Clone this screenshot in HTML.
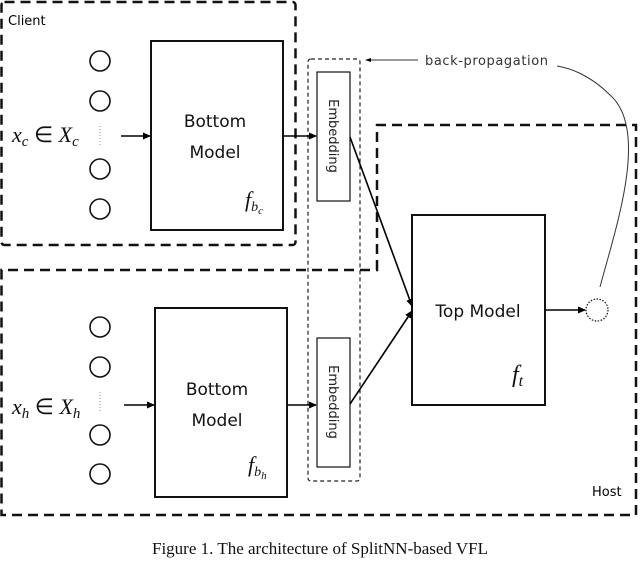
<!DOCTYPE html>
<html><head><style>
body{margin:0;background:#fff;width:640px;height:571px;overflow:hidden}
</style></head><body>
<svg width="640" height="571" xmlns="http://www.w3.org/2000/svg" font-family="DejaVu Sans, Liberation Sans, sans-serif">
<defs><marker id="a" markerWidth="8" markerHeight="8" refX="7" refY="4" orient="auto" markerUnits="userSpaceOnUse"><path d="M0,0.5 L8,4 L0,7.5z" fill="#000"/></marker>
<marker id="s" markerWidth="6" markerHeight="6" refX="5" refY="3" orient="auto" markerUnits="userSpaceOnUse"><path d="M0,1 L6,3 L0,5z" fill="#000"/></marker></defs>
<g fill="none" stroke="#111" stroke-width="2.5" stroke-dasharray="10,6">
<rect x="1.5" y="2" width="294" height="243" rx="3"/>
<path d="M377,270 L377,125 L636,125 L636,515 L1.5,515 L1.5,270 Z"/>
</g>
<rect x="308" y="59" width="52" height="422" rx="3" fill="none" stroke="#222" stroke-width="1.2" stroke-dasharray="4,3"/>
<text x="8" y="25" font-size="13">Client</text>
<text x="592" y="496" font-size="13">Host</text>
<g fill="none" stroke="#111" stroke-width="1.6">
<circle cx="100" cy="61" r="10"/><circle cx="100" cy="101" r="10"/><circle cx="100" cy="169" r="10"/><circle cx="100" cy="209" r="10"/>
<circle cx="100" cy="327" r="10"/><circle cx="100" cy="367" r="10"/><circle cx="100" cy="435" r="10"/><circle cx="100" cy="474" r="10"/>
<rect x="151" y="41" width="132" height="189" stroke-width="2"/>
<rect x="155" y="308" width="132" height="189" stroke-width="2"/>
<rect x="412" y="215" width="133" height="190" stroke-width="2"/>
<rect x="317" y="72" width="33" height="129" stroke-width="1.2"/>
<rect x="317" y="338" width="33" height="129" stroke-width="1.2"/>
</g>
<line x1="100" y1="126" x2="100" y2="146" stroke="#888" stroke-dasharray="1,2"/>
<line x1="100" y1="392" x2="100" y2="412" stroke="#888" stroke-dasharray="1,2"/>
<circle cx="597" cy="310" r="11" fill="none" stroke="#111" stroke-width="1.2" stroke-dasharray="1.5,1.5"/>
<g stroke="#000" stroke-width="1.6" fill="none">
<line x1="121" y1="136" x2="150" y2="136" marker-end="url(#a)"/>
<line x1="124" y1="405" x2="154" y2="405" marker-end="url(#a)"/>
<line x1="284" y1="136" x2="316" y2="136" marker-end="url(#a)"/>
<line x1="288" y1="405" x2="316" y2="405" marker-end="url(#a)"/>
<line x1="350" y1="137" x2="412" y2="306" marker-end="url(#a)"/>
<line x1="350" y1="404" x2="412" y2="311" marker-end="url(#a)"/>
<line x1="545" y1="310" x2="585" y2="310" marker-end="url(#a)"/>
</g>
<path d="M600,287 C615,230 650,130 610,95 C590,75 570,68 557,66" fill="none" stroke="#333" stroke-width="1"/>
<line x1="418" y1="60" x2="366" y2="60" stroke="#333" stroke-width="1" marker-end="url(#s)"/>
<text x="425" y="65" font-size="13" fill="#333" textLength="123">back-propagation</text>
<g font-size="17" fill="#111" text-anchor="middle">
<text x="215" y="127">Bottom</text><text x="215" y="158">Model</text>
<text x="217" y="395">Bottom</text><text x="217" y="426">Model</text>
<text x="478" y="317">Top Model</text>
</g>
<g font-size="13" fill="#222" text-anchor="middle">
<text transform="translate(329,136) rotate(90)">Embedding</text>
<text transform="translate(329,402) rotate(90)">Embedding</text>
</g>
<g font-family="Liberation Serif, serif" font-style="italic" fill="#111">
<text x="12" y="142" font-size="22">x<tspan font-size="15" dy="4">c</tspan><tspan dy="-4" font-style="normal"> ∈ </tspan>X<tspan font-size="15" dy="4">c</tspan></text>
<text x="12" y="414" font-size="22">x<tspan font-size="15" dy="4">h</tspan><tspan dy="-4" font-style="normal"> ∈ </tspan>X<tspan font-size="15" dy="4">h</tspan></text>
<text x="245" y="207" font-size="22">f<tspan font-size="14" dy="4">b<tspan font-size="11" dy="3">c</tspan></tspan></text>
<text x="248" y="472" font-size="22">f<tspan font-size="14" dy="4">b<tspan font-size="11" dy="3">h</tspan></tspan></text>
<text x="512" y="382" font-size="24">f<tspan font-size="16" dy="4">t</tspan></text>
</g>
<text x="320" y="554" font-family="Liberation Serif, serif" font-size="17" text-anchor="middle" fill="#111">Figure 1. The architecture of SplitNN-based VFL</text>
</svg>
</body></html>
